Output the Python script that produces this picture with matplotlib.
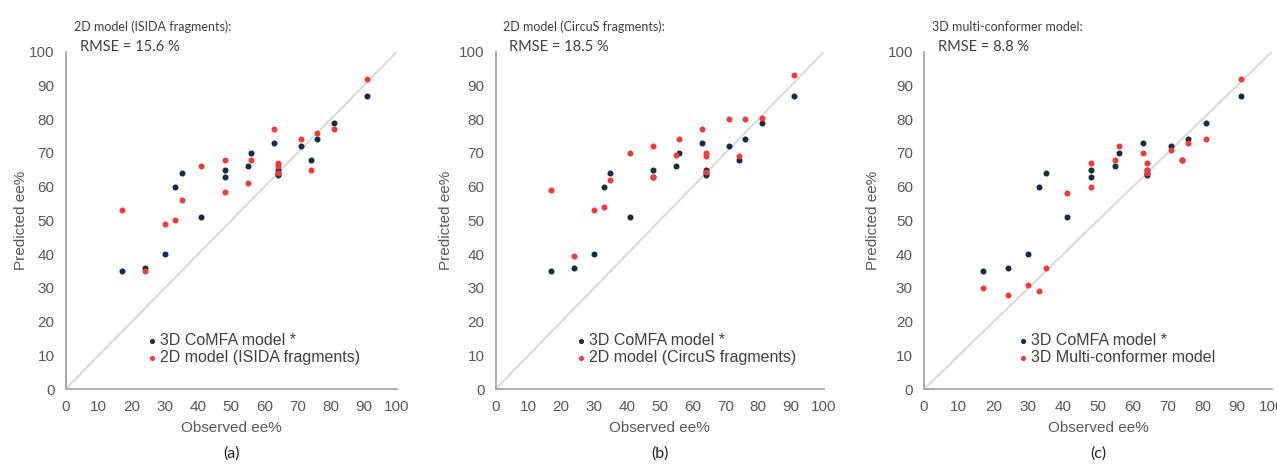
import matplotlib
matplotlib.use("Agg")
import matplotlib.pyplot as plt

# observed ee% (same compounds in every panel)
observed = [17, 24, 30, 33, 35, 41, 48, 48, 55, 56, 63, 64, 64, 64, 71, 74, 76, 81, 91]
# 3D CoMFA model (reference, shown in all panels)
comfa = [35, 36, 40, 60, 64, 51, 65, 63, 66, 70, 73, 65, 64, 63.5, 72, 68, 74, 79, 87]
# panel predictions
isida = [53, 35, 49, 50, 56, 66, 68, 58.5, 61, 68, 77, 67, 66, 64, 74, 65, 76, 77, 92]
circus = [59, 39.5, 53, 54, 62, 70, 72, 63, 69.5, 74, 77, 70, 69, 64.5, 80, 69, 80, 80.5, 93]
multiconf = [30, 28, 31, 29, 36, 58, 67, 60, 68, 72, 70, 67, 65, 64, 71, 68, 73, 74, 92]

titles = ["2D model (ISIDA fragments):", "2D model (CircuS fragments):", "3D multi-conformer model:"]
rmse = ["RMSE = 15.6 %", "RMSE = 18.5 %", "RMSE = 8.8 %"]
series_names = ["2D model (ISIDA fragments)", "2D model (CircuS fragments)", "3D Multi-conformer model"]
panel_tags = ["(a)", "(b)", "(c)"]
ticks = list(range(0, 101, 10))

W, H = 1277, 471
fig = plt.figure(figsize=(W / 100, H / 100), dpi=100)
plt.rcParams["font.family"] = ["Liberation Sans", "DejaVu Sans"]

# axes boxes in pixels: x0 (value 0), x1 (value 100), y-label x, legend x
boxes = [(65.5, 397, 21, 0.25), (495.5, 824, 446, 0.25), (924, 1272, 873, 0.275)]
y0_px, y1_px = 389.2, 51.7

dark = "#1b2a41"
red = "#ef3b3b"
gray_txt = "#595959"

for i, preds in enumerate([isida, circus, multiconf]):
    x0, x1, ylab_x, leg_x = boxes[i]
    ax = fig.add_axes([x0 / W, (H - y0_px) / H, (x1 - x0) / W, (y0_px - y1_px) / H])
    ax.set_xlim(0, 100)
    ax.set_ylim(0, 100)
    ax.plot([0, 100], [0, 100], color="#d9d9d9", lw=1.4, zorder=1)
    ax.scatter(observed, comfa, s=11, color=dark, label="3D CoMFA model *", zorder=3)
    ax.scatter(observed, preds, s=11, color=red, label=series_names[i], zorder=3)
    for s in ["top", "right"]:
        ax.spines[s].set_visible(False)
    for s in ["left", "bottom"]:
        ax.spines[s].set_color("#a6a6a6")
        ax.spines[s].set_linewidth(1.3)
    ax.set_xticks(ticks)
    ax.set_yticks(ticks)
    ax.tick_params(length=0, pad=8, labelsize=11, labelcolor=gray_txt)
    fig.text((x0 + x1) / 2 / W, 1 - 428 / H, "Observed ee%", fontsize=11,
             color=gray_txt, ha="center", va="center")
    fig.text(ylab_x / W, 1 - (y0_px + y1_px) / 2 / H, "Predicted ee%", fontsize=11,
             color=gray_txt, ha="center", va="center", rotation=90)
    leg = ax.legend(loc="upper left", bbox_to_anchor=(leg_x, 0.166),
                    frameon=False, fontsize=11.5, handlelength=0.4, handletextpad=0.3,
                    labelspacing=0.12, borderpad=0, borderaxespad=0, markerscale=0.8)
    for t in leg.get_texts():
        t.set_color("#404040")
    fig.text((x0 + 8) / W, 1 - 27 / H, titles[i], fontsize=9, family="Lato",
             color="#404040", va="center")
    fig.text((x0 + 14) / W, 1 - 47 / H, rmse[i], fontsize=10.5, family="Lato",
             color="#404040", va="center")
    fig.text((x0 + x1) / 2 / W, 1 - 454 / H, panel_tags[i], fontsize=11.5, family="Lato",
             color="#202020", ha="center", va="center")

fig.savefig("out.png", dpi=100, facecolor="white")
